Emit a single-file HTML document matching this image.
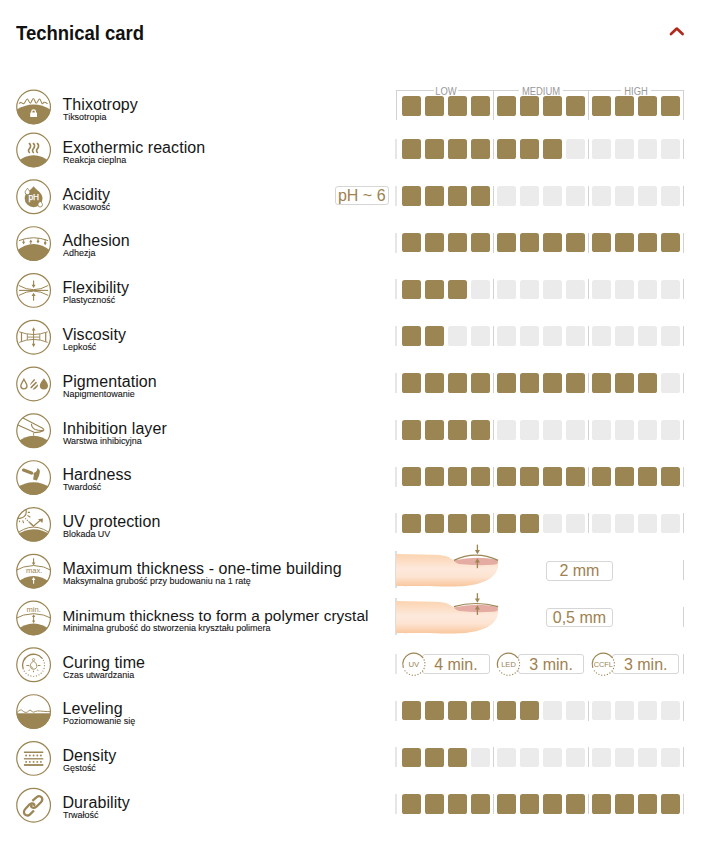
<!DOCTYPE html>
<html><head><meta charset="utf-8"><title>Technical card</title>
<style>
*{margin:0;padding:0;box-sizing:border-box}
html,body{width:703px;height:848px;background:#fff;overflow:hidden}
body{position:relative;font-family:"Liberation Sans",Arial,sans-serif;color:#161616}
.abs{position:absolute}
.title{position:absolute;left:16px;top:20.8px;font-weight:bold;font-size:20.6px;line-height:24px;white-space:nowrap;transform-origin:0 0;transform:scaleX(0.897);color:#111}
.row{position:absolute;left:0;width:703px;height:1px}
.ico{position:absolute;left:15.6px;width:36px;height:36px;overflow:visible}
.t{position:absolute;left:62.5px;font-size:16px;line-height:16px;white-space:nowrap;color:#161616;letter-spacing:0.07px}
.s{position:absolute;left:63px;font-size:9.4px;line-height:9px;white-space:nowrap;color:#161616;transform-origin:0 0;transform:scaleX(0.955);-webkit-text-stroke:0.1px #111}
.sq{position:absolute;width:19.0px;height:19.5px;border-radius:2.6px;background:#9b8553}
.sq.e{background:#ebebeb}
.vl{position:absolute;width:1px;background:#d2d2d2}
.box{position:absolute;border:1px solid #d6d6d6;border-radius:3px;background:#fff;color:#a0814f;font-size:16px;text-align:center;white-space:nowrap}
.lg{position:absolute;top:86.5px;font-size:10px;line-height:10px;color:#999;white-space:nowrap;transform:scaleX(0.94)}
</style></head><body>

<svg width="0" height="0" style="position:absolute"><defs><clipPath id="cc"><circle cx="18" cy="18" r="17.2"/></clipPath></defs></svg>
<div class="title">Technical card</div>
<svg class="abs" style="left:665px;top:22px" width="24" height="18" viewBox="0 0 24 18"><path d="M6,12 L11.8,6.6 L17.6,12" fill="none" stroke="#b1291b" stroke-width="2.7" stroke-linecap="round" stroke-linejoin="round"/></svg>
<div class="abs" style="left:396px;top:90px;width:288px;height:1px;background:#d2d2d2"></div>
<div class="vl" style="left:396px;top:90px;height:30px"></div>
<div class="vl" style="left:493px;top:90px;height:30px"></div>
<div class="vl" style="left:588px;top:90px;height:30px"></div>
<div class="vl" style="left:683px;top:90px;height:30px"></div>
<div class="abs" style="left:433.9px;top:88px;width:23.7px;height:4px;background:#fff"></div>
<div class="lg" style="left:416.15px;width:60px;text-align:center">LOW</div>
<div class="abs" style="left:519.0px;top:88px;width:44.0px;height:4px;background:#fff"></div>
<div class="lg" style="left:511.10px;width:60px;text-align:center">MEDIUM</div>
<div class="abs" style="left:621.0px;top:88px;width:30.1px;height:4px;background:#fff"></div>
<div class="lg" style="left:606.20px;width:60px;text-align:center">HIGH</div>
<div class="row" style="top:96.50px">
<div class="t" style="top:0.30px;font-size:16px">Thixotropy</div>
<div class="s" style="top:15.40px">Tiksotropia</div>
<div class="sq" style="left:402px;top:-0.3px"></div>
<div class="sq" style="left:425px;top:-0.3px"></div>
<div class="sq" style="left:448px;top:-0.3px"></div>
<div class="sq" style="left:471px;top:-0.3px"></div>
<div class="sq" style="left:497px;top:-0.3px"></div>
<div class="sq" style="left:520px;top:-0.3px"></div>
<div class="sq" style="left:543px;top:-0.3px"></div>
<div class="sq" style="left:566px;top:-0.3px"></div>
<div class="sq" style="left:592px;top:-0.3px"></div>
<div class="sq" style="left:615px;top:-0.3px"></div>
<div class="sq" style="left:638px;top:-0.3px"></div>
<div class="sq" style="left:661px;top:-0.3px"></div>
</div>
<div class="row" style="top:139.50px">
<div class="t" style="top:0.30px;font-size:16px">Exothermic reaction</div>
<div class="s" style="top:15.40px">Reakcja cieplna</div>
<div class="vl" style="left:395px;top:-0.5px;height:20px;background:#e6e6e6;width:1.5px"></div>
<div class="vl" style="left:493px;top:-0.5px;height:20px"></div>
<div class="vl" style="left:588px;top:-0.5px;height:20px"></div>
<div class="vl" style="left:683px;top:-0.5px;height:20px"></div>
<div class="sq" style="left:402px;top:-0.3px"></div>
<div class="sq" style="left:425px;top:-0.3px"></div>
<div class="sq" style="left:448px;top:-0.3px"></div>
<div class="sq" style="left:471px;top:-0.3px"></div>
<div class="sq" style="left:497px;top:-0.3px"></div>
<div class="sq" style="left:520px;top:-0.3px"></div>
<div class="sq" style="left:543px;top:-0.3px"></div>
<div class="sq e" style="left:566px;top:-0.3px"></div>
<div class="sq e" style="left:592px;top:-0.3px"></div>
<div class="sq e" style="left:615px;top:-0.3px"></div>
<div class="sq e" style="left:638px;top:-0.3px"></div>
<div class="sq e" style="left:661px;top:-0.3px"></div>
</div>
<div class="row" style="top:186.30px">
<div class="t" style="top:0.30px;font-size:16px">Acidity</div>
<div class="s" style="top:15.40px">Kwasowość</div>
<div class="vl" style="left:395px;top:-0.5px;height:20px;background:#e6e6e6;width:1.5px"></div>
<div class="vl" style="left:493px;top:-0.5px;height:20px"></div>
<div class="vl" style="left:588px;top:-0.5px;height:20px"></div>
<div class="vl" style="left:683px;top:-0.5px;height:20px"></div>
<div class="sq" style="left:402px;top:-0.3px"></div>
<div class="sq" style="left:425px;top:-0.3px"></div>
<div class="sq" style="left:448px;top:-0.3px"></div>
<div class="sq" style="left:471px;top:-0.3px"></div>
<div class="sq e" style="left:497px;top:-0.3px"></div>
<div class="sq e" style="left:520px;top:-0.3px"></div>
<div class="sq e" style="left:543px;top:-0.3px"></div>
<div class="sq e" style="left:566px;top:-0.3px"></div>
<div class="sq e" style="left:592px;top:-0.3px"></div>
<div class="sq e" style="left:615px;top:-0.3px"></div>
<div class="sq e" style="left:638px;top:-0.3px"></div>
<div class="sq e" style="left:661px;top:-0.3px"></div>
<div class="box" style="left:334.5px;top:-0.2px;width:54.5px;height:18.9px;line-height:18.6px">pH ~ 6</div>
</div>
<div class="row" style="top:233.10px">
<div class="t" style="top:0.30px;font-size:16px">Adhesion</div>
<div class="s" style="top:15.40px">Adhezja</div>
<div class="vl" style="left:395px;top:-0.5px;height:20px;background:#e6e6e6;width:1.5px"></div>
<div class="vl" style="left:493px;top:-0.5px;height:20px"></div>
<div class="vl" style="left:588px;top:-0.5px;height:20px"></div>
<div class="vl" style="left:683px;top:-0.5px;height:20px"></div>
<div class="sq" style="left:402px;top:-0.3px"></div>
<div class="sq" style="left:425px;top:-0.3px"></div>
<div class="sq" style="left:448px;top:-0.3px"></div>
<div class="sq" style="left:471px;top:-0.3px"></div>
<div class="sq" style="left:497px;top:-0.3px"></div>
<div class="sq" style="left:520px;top:-0.3px"></div>
<div class="sq" style="left:543px;top:-0.3px"></div>
<div class="sq" style="left:566px;top:-0.3px"></div>
<div class="sq" style="left:592px;top:-0.3px"></div>
<div class="sq" style="left:615px;top:-0.3px"></div>
<div class="sq" style="left:638px;top:-0.3px"></div>
<div class="sq" style="left:661px;top:-0.3px"></div>
</div>
<div class="row" style="top:279.90px">
<div class="t" style="top:0.30px;font-size:16px">Flexibility</div>
<div class="s" style="top:15.40px">Plastyczność</div>
<div class="vl" style="left:395px;top:-0.5px;height:20px;background:#e6e6e6;width:1.5px"></div>
<div class="vl" style="left:493px;top:-0.5px;height:20px"></div>
<div class="vl" style="left:588px;top:-0.5px;height:20px"></div>
<div class="vl" style="left:683px;top:-0.5px;height:20px"></div>
<div class="sq" style="left:402px;top:-0.3px"></div>
<div class="sq" style="left:425px;top:-0.3px"></div>
<div class="sq" style="left:448px;top:-0.3px"></div>
<div class="sq e" style="left:471px;top:-0.3px"></div>
<div class="sq e" style="left:497px;top:-0.3px"></div>
<div class="sq e" style="left:520px;top:-0.3px"></div>
<div class="sq e" style="left:543px;top:-0.3px"></div>
<div class="sq e" style="left:566px;top:-0.3px"></div>
<div class="sq e" style="left:592px;top:-0.3px"></div>
<div class="sq e" style="left:615px;top:-0.3px"></div>
<div class="sq e" style="left:638px;top:-0.3px"></div>
<div class="sq e" style="left:661px;top:-0.3px"></div>
</div>
<div class="row" style="top:326.70px">
<div class="t" style="top:0.30px;font-size:16px">Viscosity</div>
<div class="s" style="top:15.40px">Lepkość</div>
<div class="vl" style="left:395px;top:-0.5px;height:20px;background:#e6e6e6;width:1.5px"></div>
<div class="vl" style="left:493px;top:-0.5px;height:20px"></div>
<div class="vl" style="left:588px;top:-0.5px;height:20px"></div>
<div class="vl" style="left:683px;top:-0.5px;height:20px"></div>
<div class="sq" style="left:402px;top:-0.3px"></div>
<div class="sq" style="left:425px;top:-0.3px"></div>
<div class="sq e" style="left:448px;top:-0.3px"></div>
<div class="sq e" style="left:471px;top:-0.3px"></div>
<div class="sq e" style="left:497px;top:-0.3px"></div>
<div class="sq e" style="left:520px;top:-0.3px"></div>
<div class="sq e" style="left:543px;top:-0.3px"></div>
<div class="sq e" style="left:566px;top:-0.3px"></div>
<div class="sq e" style="left:592px;top:-0.3px"></div>
<div class="sq e" style="left:615px;top:-0.3px"></div>
<div class="sq e" style="left:638px;top:-0.3px"></div>
<div class="sq e" style="left:661px;top:-0.3px"></div>
</div>
<div class="row" style="top:373.50px">
<div class="t" style="top:0.30px;font-size:16px">Pigmentation</div>
<div class="s" style="top:15.40px">Napigmentowanie</div>
<div class="vl" style="left:395px;top:-0.5px;height:20px;background:#e6e6e6;width:1.5px"></div>
<div class="vl" style="left:493px;top:-0.5px;height:20px"></div>
<div class="vl" style="left:588px;top:-0.5px;height:20px"></div>
<div class="vl" style="left:683px;top:-0.5px;height:20px"></div>
<div class="sq" style="left:402px;top:-0.3px"></div>
<div class="sq" style="left:425px;top:-0.3px"></div>
<div class="sq" style="left:448px;top:-0.3px"></div>
<div class="sq" style="left:471px;top:-0.3px"></div>
<div class="sq" style="left:497px;top:-0.3px"></div>
<div class="sq" style="left:520px;top:-0.3px"></div>
<div class="sq" style="left:543px;top:-0.3px"></div>
<div class="sq" style="left:566px;top:-0.3px"></div>
<div class="sq" style="left:592px;top:-0.3px"></div>
<div class="sq" style="left:615px;top:-0.3px"></div>
<div class="sq" style="left:638px;top:-0.3px"></div>
<div class="sq e" style="left:661px;top:-0.3px"></div>
</div>
<div class="row" style="top:420.30px">
<div class="t" style="top:0.30px;font-size:16px">Inhibition layer</div>
<div class="s" style="top:15.40px">Warstwa inhibicyjna</div>
<div class="vl" style="left:395px;top:-0.5px;height:20px;background:#e6e6e6;width:1.5px"></div>
<div class="vl" style="left:493px;top:-0.5px;height:20px"></div>
<div class="vl" style="left:588px;top:-0.5px;height:20px"></div>
<div class="vl" style="left:683px;top:-0.5px;height:20px"></div>
<div class="sq" style="left:402px;top:-0.3px"></div>
<div class="sq" style="left:425px;top:-0.3px"></div>
<div class="sq" style="left:448px;top:-0.3px"></div>
<div class="sq" style="left:471px;top:-0.3px"></div>
<div class="sq e" style="left:497px;top:-0.3px"></div>
<div class="sq e" style="left:520px;top:-0.3px"></div>
<div class="sq e" style="left:543px;top:-0.3px"></div>
<div class="sq e" style="left:566px;top:-0.3px"></div>
<div class="sq e" style="left:592px;top:-0.3px"></div>
<div class="sq e" style="left:615px;top:-0.3px"></div>
<div class="sq e" style="left:638px;top:-0.3px"></div>
<div class="sq e" style="left:661px;top:-0.3px"></div>
</div>
<div class="row" style="top:467.10px">
<div class="t" style="top:0.30px;font-size:16px">Hardness</div>
<div class="s" style="top:15.40px">Twardość</div>
<div class="vl" style="left:395px;top:-0.5px;height:20px;background:#e6e6e6;width:1.5px"></div>
<div class="vl" style="left:493px;top:-0.5px;height:20px"></div>
<div class="vl" style="left:588px;top:-0.5px;height:20px"></div>
<div class="vl" style="left:683px;top:-0.5px;height:20px"></div>
<div class="sq" style="left:402px;top:-0.3px"></div>
<div class="sq" style="left:425px;top:-0.3px"></div>
<div class="sq" style="left:448px;top:-0.3px"></div>
<div class="sq" style="left:471px;top:-0.3px"></div>
<div class="sq" style="left:497px;top:-0.3px"></div>
<div class="sq" style="left:520px;top:-0.3px"></div>
<div class="sq" style="left:543px;top:-0.3px"></div>
<div class="sq" style="left:566px;top:-0.3px"></div>
<div class="sq" style="left:592px;top:-0.3px"></div>
<div class="sq" style="left:615px;top:-0.3px"></div>
<div class="sq" style="left:638px;top:-0.3px"></div>
<div class="sq" style="left:661px;top:-0.3px"></div>
</div>
<div class="row" style="top:513.90px">
<div class="t" style="top:0.30px;font-size:16px">UV protection</div>
<div class="s" style="top:15.40px">Blokada UV</div>
<div class="vl" style="left:395px;top:-0.5px;height:20px;background:#e6e6e6;width:1.5px"></div>
<div class="vl" style="left:493px;top:-0.5px;height:20px"></div>
<div class="vl" style="left:588px;top:-0.5px;height:20px"></div>
<div class="vl" style="left:683px;top:-0.5px;height:20px"></div>
<div class="sq" style="left:402px;top:-0.3px"></div>
<div class="sq" style="left:425px;top:-0.3px"></div>
<div class="sq" style="left:448px;top:-0.3px"></div>
<div class="sq" style="left:471px;top:-0.3px"></div>
<div class="sq" style="left:497px;top:-0.3px"></div>
<div class="sq" style="left:520px;top:-0.3px"></div>
<div class="sq e" style="left:543px;top:-0.3px"></div>
<div class="sq e" style="left:566px;top:-0.3px"></div>
<div class="sq e" style="left:592px;top:-0.3px"></div>
<div class="sq e" style="left:615px;top:-0.3px"></div>
<div class="sq e" style="left:638px;top:-0.3px"></div>
<div class="sq e" style="left:661px;top:-0.3px"></div>
</div>
<div class="row" style="top:560.70px">
<div class="t" style="top:0.30px;font-size:16px">Maximum thickness - one-time building</div>
<div class="s" style="top:15.40px">Maksymalna grubość przy budowaniu na 1 ratę</div>
<div class="vl" style="left:395px;top:-10px;height:37.5px;background:#dedede;width:1.5px"></div>
<div class="vl" style="left:683px;top:-0.5px;height:20px"></div>
<div class="box" style="left:545.7px;top:0.5px;width:67.5px;height:19.4px;line-height:17.4px">2 mm</div>
</div>
<div class="row" style="top:607.50px">
<div class="t" style="top:0.30px;font-size:15.36px">Minimum thickness to form a polymer crystal</div>
<div class="s" style="top:15.40px">Minimalna grubość do stworzenia kryształu polimera</div>
<div class="vl" style="left:395px;top:-10px;height:37.5px;background:#dedede;width:1.5px"></div>
<div class="vl" style="left:683px;top:-0.5px;height:20px"></div>
<div class="box" style="left:545.7px;top:0.5px;width:67.5px;height:19.4px;line-height:17.4px">0,5 mm</div>
</div>
<div class="row" style="top:654.30px">
<div class="t" style="top:0.30px;font-size:16px">Curing time</div>
<div class="s" style="top:15.40px">Czas utwardzania</div>
<div class="vl" style="left:395px;top:-0.5px;height:20px;background:#e6e6e6;width:1.5px"></div>
<div class="vl" style="left:683px;top:-0.5px;height:20px"></div>
<div class="box" style="left:422.2px;top:0.1px;width:67.5px;height:19.3px;line-height:19.2px">4 min.</div>
<div class="box" style="left:518.1px;top:0.1px;width:66.1px;height:19.3px;line-height:19.2px">3 min.</div>
<div class="box" style="left:612.3px;top:0.1px;width:66.8px;height:19.3px;line-height:19.2px">3 min.</div>
</div>
<div class="row" style="top:701.10px">
<div class="t" style="top:0.30px;font-size:16px">Leveling</div>
<div class="s" style="top:15.40px">Poziomowanie się</div>
<div class="vl" style="left:395px;top:-0.5px;height:20px;background:#e6e6e6;width:1.5px"></div>
<div class="vl" style="left:493px;top:-0.5px;height:20px"></div>
<div class="vl" style="left:588px;top:-0.5px;height:20px"></div>
<div class="vl" style="left:683px;top:-0.5px;height:20px"></div>
<div class="sq" style="left:402px;top:-0.3px"></div>
<div class="sq" style="left:425px;top:-0.3px"></div>
<div class="sq" style="left:448px;top:-0.3px"></div>
<div class="sq" style="left:471px;top:-0.3px"></div>
<div class="sq" style="left:497px;top:-0.3px"></div>
<div class="sq" style="left:520px;top:-0.3px"></div>
<div class="sq e" style="left:543px;top:-0.3px"></div>
<div class="sq e" style="left:566px;top:-0.3px"></div>
<div class="sq e" style="left:592px;top:-0.3px"></div>
<div class="sq e" style="left:615px;top:-0.3px"></div>
<div class="sq e" style="left:638px;top:-0.3px"></div>
<div class="sq e" style="left:661px;top:-0.3px"></div>
</div>
<div class="row" style="top:747.90px">
<div class="t" style="top:0.30px;font-size:16px">Density</div>
<div class="s" style="top:15.40px">Gęstość</div>
<div class="vl" style="left:395px;top:-0.5px;height:20px;background:#e6e6e6;width:1.5px"></div>
<div class="vl" style="left:493px;top:-0.5px;height:20px"></div>
<div class="vl" style="left:588px;top:-0.5px;height:20px"></div>
<div class="vl" style="left:683px;top:-0.5px;height:20px"></div>
<div class="sq" style="left:402px;top:-0.3px"></div>
<div class="sq" style="left:425px;top:-0.3px"></div>
<div class="sq" style="left:448px;top:-0.3px"></div>
<div class="sq e" style="left:471px;top:-0.3px"></div>
<div class="sq e" style="left:497px;top:-0.3px"></div>
<div class="sq e" style="left:520px;top:-0.3px"></div>
<div class="sq e" style="left:543px;top:-0.3px"></div>
<div class="sq e" style="left:566px;top:-0.3px"></div>
<div class="sq e" style="left:592px;top:-0.3px"></div>
<div class="sq e" style="left:615px;top:-0.3px"></div>
<div class="sq e" style="left:638px;top:-0.3px"></div>
<div class="sq e" style="left:661px;top:-0.3px"></div>
</div>
<div class="row" style="top:794.70px">
<div class="t" style="top:0.30px;font-size:16px">Durability</div>
<div class="s" style="top:15.40px">Trwałość</div>
<div class="vl" style="left:395px;top:-0.5px;height:20px;background:#e6e6e6;width:1.5px"></div>
<div class="vl" style="left:493px;top:-0.5px;height:20px"></div>
<div class="vl" style="left:588px;top:-0.5px;height:20px"></div>
<div class="vl" style="left:683px;top:-0.5px;height:20px"></div>
<div class="sq" style="left:402px;top:-0.3px"></div>
<div class="sq" style="left:425px;top:-0.3px"></div>
<div class="sq" style="left:448px;top:-0.3px"></div>
<div class="sq" style="left:471px;top:-0.3px"></div>
<div class="sq" style="left:497px;top:-0.3px"></div>
<div class="sq" style="left:520px;top:-0.3px"></div>
<div class="sq" style="left:543px;top:-0.3px"></div>
<div class="sq" style="left:566px;top:-0.3px"></div>
<div class="sq" style="left:592px;top:-0.3px"></div>
<div class="sq" style="left:615px;top:-0.3px"></div>
<div class="sq" style="left:638px;top:-0.3px"></div>
<div class="sq" style="left:661px;top:-0.3px"></div>
</div>
<svg class="abs" style="left:13px;top:87px;overflow:visible" width="40" height="40" viewBox="-2.600 -2.000 40 40"><circle cx="18" cy="18" r="16.85" fill="none" stroke="#9b8553" stroke-width="1.2"/><path clip-path="url(#cc)" d="M-2,22.61 Q18,8.39 38,22.61 L38,40 L-2,40 Z" fill="#9b8553"/><path d="M3.7,14.2 C3.98,14.07 4.88,13.38 5.4,13.4 C5.92,13.42 6.27,14.13 6.8,14.3 C7.33,14.47 7.78,15.12 8.6,14.4 C9.42,13.68 10.68,10.03 11.7,10.0 C12.72,9.97 13.68,14.30 14.7,14.2 C15.72,14.10 16.82,9.40 17.8,9.4 C18.78,9.40 19.57,14.10 20.6,14.2 C21.63,14.30 23.02,9.93 24,10.0 C24.98,10.07 25.77,14.07 26.5,14.6 C27.23,15.13 27.83,13.38 28.4,13.2 C28.97,13.02 29.37,13.28 29.9,13.5 C30.43,13.72 31.32,14.33 31.6,14.5" fill="none" stroke="#9b8553" stroke-width="1.05" stroke-linejoin="round" stroke-linecap="round"/><path d="M16.2,23.9 L16.2,22.6 A1.8,1.8 0 0 1 19.8,22.6 L19.8,23.9" fill="none" stroke="#fff" stroke-width="1.25"/><rect x="14.6" y="23.6" width="6.8" height="4.4" rx="0.5" fill="#fff"/></svg>
<svg class="abs" style="left:13px;top:130px;overflow:visible" width="40" height="40" viewBox="-2.600 -2.000 40 40"><circle cx="18" cy="18" r="16.85" fill="none" stroke="#9b8553" stroke-width="1.2"/><path clip-path="url(#cc)" d="M-2,32.96 Q18,13.64 38,32.96 L38,40 L-2,40 Z" fill="#9b8553"/><path d="M13.8,11.5 C15.700000000000001,13 15.100000000000001,15.4 13.700000000000001,16.8 C12.5,18 12.8,19.6 13.8,20.5" fill="none" stroke="#9b8553" stroke-width="1.65" stroke-linecap="round"/><path d="M17.8,11.5 C19.7,13 19.1,15.4 17.7,16.8 C16.5,18 16.8,19.6 17.8,20.5" fill="none" stroke="#9b8553" stroke-width="1.65" stroke-linecap="round"/><path d="M21.8,11.5 C23.7,13 23.1,15.4 21.7,16.8 C20.5,18 20.8,19.6 21.8,20.5" fill="none" stroke="#9b8553" stroke-width="1.65" stroke-linecap="round"/></svg>
<svg class="abs" style="left:13px;top:176px;overflow:visible" width="40" height="40" viewBox="-2.600 -2.800 40 40"><circle cx="18" cy="18" r="16.85" fill="none" stroke="#9b8553" stroke-width="1.2"/><path d="M18,7.4 C21.1325,11.6175 26.95,14.08 26.95,19.45 A8.95,8.95 0 0 1 9.05,19.45 C9.05,14.08 14.8675,11.6175 18,7.4 Z" fill="#9b8553"/><path d="M11.9,9.4 C12.74,10.835 14.3,12.06 14.3,13.5 A2.4,2.4 0 0 1 9.5,13.5 C9.5,12.06 11.06,10.835 11.9,9.4 Z" fill="#fff" stroke="#9b8553" stroke-width="0.9"/><path d="M24.6,22.3 C25.405,23.56 26.900000000000002,24.52 26.900000000000002,25.9 A2.3,2.3 0 0 1 22.3,25.9 C22.3,24.52 23.795,23.56 24.6,22.3 Z" fill="#fff" stroke="#9b8553" stroke-width="0.9"/><text x="18.1" y="21.1" text-anchor="middle" font-family="Liberation Sans, Arial, sans-serif" font-size="8.3" fill="#fff" stroke="#fff" stroke-width="0.25">pH</text></svg>
<svg class="abs" style="left:13px;top:223px;overflow:visible" width="40" height="40" viewBox="-2.600 -2.600 40 40"><circle cx="18" cy="18" r="16.85" fill="none" stroke="#9b8553" stroke-width="1.2"/><path clip-path="url(#cc)" d="M-2,27.82 Q18,9.18 38,27.82 L38,40 L-2,40 Z" fill="#9b8553"/><path d="M3.4,15 Q18,9.3 32.4,15" fill="none" stroke="#9b8553" stroke-width="1.0"/><path d="M8,14 V17" stroke="#9b8553" stroke-width="0.9"/><path d="M6.4,16.2 L9.6,16.2 L8,18.9 Z" fill="#9b8553"/><path d="M15.2,18.8 V16" stroke="#9b8553" stroke-width="0.9"/><path d="M13.6,16.6 L16.8,16.6 L15.2,14 Z" fill="#9b8553"/><path d="M22.4,12.5 V15.5" stroke="#9b8553" stroke-width="0.9"/><circle cx="22.4" cy="15.9" r="1.25" fill="#9b8553"/><path d="M29.6,13.5 V19.5" stroke="#9b8553" stroke-width="0.9"/><circle cx="29.6" cy="17.4" r="1.25" fill="#9b8553"/></svg>
<svg class="abs" style="left:13px;top:270px;overflow:visible" width="40" height="40" viewBox="-2.600 -2.400 40 40"><circle cx="18" cy="18" r="16.85" fill="none" stroke="#9b8553" stroke-width="1.2"/><path d="M3.3,18 L32.6,18" stroke="#9b8553" stroke-width="1.1"/><path d="M3.3,13.1 Q18,21.5 32.6,13.1" fill="none" stroke="#9b8553" stroke-width="1"/><path d="M3.3,23 Q18,14.4 32.6,23" fill="none" stroke="#9b8553" stroke-width="1"/><path d="M18,8 V13" stroke="#9b8553" stroke-width="1.1"/><path d="M16,12.3 L20,12.3 L18,15.6 Z" fill="#9b8553"/><path d="M18,28.3 V23" stroke="#9b8553" stroke-width="1.1"/><path d="M16,23.7 L20,23.7 L18,20.4 Z" fill="#9b8553"/></svg>
<svg class="abs" style="left:13px;top:317px;overflow:visible" width="40" height="40" viewBox="-2.600 -2.200 40 40"><circle cx="18" cy="18" r="16.85" fill="none" stroke="#9b8553" stroke-width="1.2"/><path d="M3.6,12.6 Q18,18.0 32.1,12.6" fill="none" stroke="#9b8553" stroke-width="0.95"/><path d="M3.6,23.2 Q18,17.2 32.1,23.2" fill="none" stroke="#9b8553" stroke-width="0.95"/><path d="M5.9,13.3 V22.4 M30.1,13.3 V22.4" stroke="#9b8553" stroke-width="1.2" fill="none"/><path d="M11.7,14.7 V20.9 M24.2,14.7 V20.9 M11.7,17.9 H24.2" stroke="#9b8553" stroke-width="0.9" fill="none"/><path d="M18,10 V26" stroke="#9b8553" stroke-width="1"/><path d="M16.2,11.4 L19.8,11.4 L18,8 Z M16.2,24.6 L19.8,24.6 L18,28 Z" fill="#9b8553"/></svg>
<svg class="abs" style="left:13px;top:364px;overflow:visible" width="40" height="40" viewBox="-2.600 -2.000 40 40"><circle cx="18" cy="18" r="16.85" fill="none" stroke="#9b8553" stroke-width="1.2"/><path d="M8.3,13.2 C9.385000000000002,15.4925 11.4,17.89 11.4,19.75 A3.1,3.1 0 0 1 5.200000000000001,19.75 C5.200000000000001,17.89 7.215000000000001,15.4925 8.3,13.2 Z" fill="none" stroke="#9b8553" stroke-width="1.3"/><clipPath id="dc7"><path d="M18.4,12.5 C19.7825,14.967500000000001 22.349999999999998,17.18 22.349999999999998,19.55 A3.95,3.95 0 0 1 14.45,19.55 C14.45,17.18 17.0175,14.967500000000001 18.4,12.5 Z"/></clipPath><g clip-path="url(#dc7)" stroke="#9b8553" stroke-width="1.6"><path d="M12,20.5 L20,12.5 M13.5,23.5 L23,14 M16,25.5 L25,16.5"/></g><path d="M28.3,12.2 C29.735,14.719999999999999 32.4,16.939999999999998 32.4,19.4 A4.1,4.1 0 0 1 24.200000000000003,19.4 C24.200000000000003,16.939999999999998 26.865000000000002,14.719999999999999 28.3,12.2 Z" fill="#9b8553"/></svg>
<svg class="abs" style="left:13px;top:410px;overflow:visible" width="40" height="40" viewBox="-2.600 -2.800 40 40"><circle cx="18" cy="18" r="16.85" fill="none" stroke="#9b8553" stroke-width="1.2"/><path clip-path="url(#cc)" d="M-2,32.41 Q18,13.59 38,32.41 L38,40 L-2,40 Z" fill="#9b8553"/><g clip-path="url(#cc)"><path d="M5,3.9 L26.6,15.2 Q29.4,17 27.4,18.2 Q24,19.6 19,19.8 L0,11.2" fill="none" stroke="#9b8553" stroke-width="1.1" stroke-linejoin="round"/><path d="M15.9,11 Q15.7,14.8 19.5,16.6 Q23.5,18 27.5,17.6" fill="none" stroke="#9b8553" stroke-width="1.1"/></g><path d="M18,19.9 V23" stroke="#9b8553" stroke-width="0.8"/></svg>
<svg class="abs" style="left:13px;top:457px;overflow:visible" width="40" height="40" viewBox="-2.600 -2.600 40 40"><circle cx="18" cy="18" r="16.85" fill="none" stroke="#9b8553" stroke-width="1.2"/><path clip-path="url(#cc)" d="M-2,30.12 Q18,15.08 38,30.12 L38,40 L-2,40 Z" fill="#9b8553"/><path d="M7.9,10.5 L15.9,13.5" stroke="#9b8553" stroke-width="3.2" stroke-linecap="round"/><path d="M21.8,8.5 Q24.6,10 24.3,12.2 L23.5,15.8 L21.3,20.8 L17.5,19.8 L18.2,15.8 L17.8,13.4 L20.1,12.3 L21.4,10.6 Z" fill="#9b8553"/></svg>
<svg class="abs" style="left:13px;top:504px;overflow:visible" width="40" height="40" viewBox="-2.600 -2.400 40 40"><circle cx="18" cy="18" r="16.85" fill="none" stroke="#9b8553" stroke-width="1.2"/><path clip-path="url(#cc)" d="M-2,30.80 Q18,15.00 38,30.80 L38,40 L-2,40 Z" fill="#9b8553"/><path clip-path="url(#cc)" d="M-2,29.77 Q18,11.63 38,29.77" fill="none" stroke="#9b8553" stroke-width="1.0"/><circle clip-path="url(#cc)" cx="4.1" cy="5.35" r="6.6" fill="none" stroke="#9b8553" stroke-width="1.15"/><path d="M12.2,6 H14.3 M11.8,9 L14.8,10.9 M3.8,14.3 L4.1,15.7 M7.1,13.9 L8,16.8" stroke="#9b8553" stroke-width="1.1" fill="none"/><path d="M9.6,11.9 L17.8,19.8" stroke="#9b8553" stroke-width="1.1" stroke-dasharray="1.3 1"/><path d="M13.8,15.9 L17.8,19.8 L25,13.6" stroke="#9b8553" stroke-width="1.3" fill="none"/><path d="M27.4,12.1 L22.4,12.8 L26.8,16.6 Z" fill="#9b8553"/></svg>
<svg class="abs" style="left:13px;top:551px;overflow:visible" width="40" height="40" viewBox="-2.600 -2.200 40 40"><circle cx="18" cy="18" r="16.85" fill="none" stroke="#9b8553" stroke-width="1.2"/><path clip-path="url(#cc)" d="M-2,32.16 Q18,13.24 38,32.16 L38,40 L-2,40 Z" fill="#9b8553"/><path clip-path="url(#cc)" d="M-2,18.25 Q18,6.35 38,18.25" fill="none" stroke="#9b8553" stroke-width="1.0"/><path d="M18,5.1 V10" stroke="#9b8553" stroke-width="1.1"/><path d="M16.2,9.2 L19.8,9.2 L18,12.2 Z" fill="#9b8553"/><path d="M18,30.5 V26" stroke="#fff" stroke-width="1.1"/><path d="M16.2,26.9 L19.8,26.9 L18,23.9 Z" fill="#fff"/><text x="18.6" y="19.9" text-anchor="middle" font-family="Liberation Sans, Arial, sans-serif" font-size="7.6" fill="#9b8553">max.</text></svg>
<svg class="abs" style="left:394px;top:551px;overflow:visible" width="110" height="40" viewBox="-2.000 -2.900 110 40"><defs><linearGradient id="fg1" x1="0" y1="0" x2="0" y2="1"><stop offset="0" stop-color="#fbd3b0"/><stop offset="0.18" stop-color="#fcdcc2"/><stop offset="0.45" stop-color="#fde9dc"/><stop offset="0.7" stop-color="#fde4d2"/><stop offset="1" stop-color="#f9c69c"/></linearGradient></defs><path d="M0,0.2 L37.6,0.8 C45,1.2 50,1.8 53,3.3 C55,4.5 56.5,5.8 58,6.6 L101.8,6.6 C103,13 101,19 96,23 C90,28 80,31 66,32.4 C55,32.8 30,32.5 0,32.2 Z" fill="url(#fg1)"/><path d="M58.1,6.7 Q80,1.2 101.7,6.1 L101.8,9.4 Q101,10.6 97,10.9 Q78,11.9 63,10.1 Q58.6,8.7 58.1,6.7 Z" fill="#e4aca3"/><path d="M57.9,6.5 Q79.6,-3.90 102.1,6.5" fill="none" stroke="#9b8553" stroke-width="1.2"/><path d="M81.4,-9.3 V-2.6" stroke="#9b8553" stroke-width="1.3"/><path d="M78.9,-3.8000000000000003 L83.9,-3.8000000000000003 L81.4,0.4 Z" fill="#9b8553"/><path d="M81.4,14.3 V7.3" stroke="#9b8553" stroke-width="1.3"/><path d="M78.9,8.5 L83.9,8.5 L81.4,4.3 Z" fill="#9b8553"/></svg>
<svg class="abs" style="left:13px;top:598px;overflow:visible" width="40" height="40" viewBox="-2.600 -2.000 40 40"><circle cx="18" cy="18" r="16.85" fill="none" stroke="#9b8553" stroke-width="1.2"/><path clip-path="url(#cc)" d="M-2,32.40 Q18,14.70 38,32.40 L38,40 L-2,40 Z" fill="#9b8553"/><path clip-path="url(#cc)" d="M-2,19.31 Q18,7.99 38,19.31" fill="none" stroke="#9b8553" stroke-width="1.0"/><path d="M18,15 V22" stroke="#9b8553" stroke-width="1"/><path d="M16.4,16.9 L19.6,16.9 L18,14.3 Z M16.4,20.6 L19.6,20.6 L18,23.2 Z" fill="#9b8553"/><text x="18" y="12.2" text-anchor="middle" font-family="Liberation Sans, Arial, sans-serif" font-size="7.6" fill="#9b8553">min.</text></svg>
<svg class="abs" style="left:394px;top:598px;overflow:visible" width="110" height="40" viewBox="-2.000 -2.900 110 40"><defs><linearGradient id="fg2" x1="0" y1="0" x2="0" y2="1"><stop offset="0" stop-color="#fbd3b0"/><stop offset="0.18" stop-color="#fcdcc2"/><stop offset="0.45" stop-color="#fde9dc"/><stop offset="0.7" stop-color="#fde4d2"/><stop offset="1" stop-color="#f9c69c"/></linearGradient></defs><path d="M0,0.2 L37.6,0.8 C45,1.2 50,1.8 53,3.3 C55,4.5 56.5,5.8 58,6.6 L101.8,6.6 C103,13 101,19 96,23 C90,28 80,31 66,32.4 C55,32.8 30,32.5 0,32.2 Z" fill="url(#fg2)"/><path d="M58.1,6.7 Q80,1.2 101.7,6.1 L101.8,9.4 Q101,10.6 97,10.9 Q78,11.9 63,10.1 Q58.6,8.7 58.1,6.7 Z" fill="#e4aca3"/><path d="M57.9,5.8 Q79.6,-0.60 102.1,5.8" fill="none" stroke="#9b8553" stroke-width="1.2"/><path d="M81.4,-7.7 V-1.1" stroke="#9b8553" stroke-width="1.3"/><path d="M78.9,-2.3000000000000003 L83.9,-2.3000000000000003 L81.4,1.9 Z" fill="#9b8553"/><path d="M81.4,14.0 V7.3" stroke="#9b8553" stroke-width="1.3"/><path d="M78.9,8.5 L83.9,8.5 L81.4,4.3 Z" fill="#9b8553"/></svg>
<svg class="abs" style="left:13px;top:644px;overflow:visible" width="40" height="40" viewBox="-2.600 -2.800 40 40"><circle cx="18" cy="18" r="16.85" fill="none" stroke="#9b8553" stroke-width="1.2"/><path d="M7.55,22.03 A11.0,11.0 0 0 1 26.56,11.60" fill="none" stroke="#9b8553" stroke-width="1.3" stroke-linecap="round"/><g fill="#9b8553"><circle cx="27.79" cy="13.54" r="0.62"/><circle cx="28.71" cy="16.16" r="0.62"/><circle cx="28.94" cy="18.93" r="0.62"/><circle cx="28.47" cy="21.67" r="0.62"/><circle cx="27.33" cy="24.20" r="0.62"/><circle cx="25.59" cy="26.36" r="0.62"/><circle cx="23.37" cy="28.02" r="0.62"/><circle cx="20.80" cy="29.08" r="0.62"/><circle cx="18.05" cy="29.45" r="0.62"/><circle cx="15.29" cy="29.12" r="0.62"/><circle cx="12.70" cy="28.12" r="0.62"/><circle cx="10.45" cy="26.49" r="0.62"/><circle cx="8.67" cy="24.36" r="0.62"/></g><circle cx="17.9" cy="12.9" r="1.15" fill="none" stroke="#9b8553" stroke-width="0.75"/><path d="M17.9,14.3 C15.8,15.5 14.6,17.5 14.6,19.5 C14.6,21.3 16,22.4 17.9,22.4 C19.8,22.4 21.2,21.3 21.2,19.5 C21.2,17.5 20,15.5 17.9,14.3 Z" fill="none" stroke="#9b8553" stroke-width="0.9"/><path d="M15,19.5 C15.4,21.4 16.6,22 18,22 L16.2,19.2 Z" fill="#9b8553" opacity="0.6"/><path d="M10.8,18.7 H13.6 M22.2,18.7 H24.8 M17.9,23.9 V25.4 M13.9,22.8 L13.3,24 M21.9,22.8 L22.5,24" stroke="#9b8553" stroke-width="1" fill="none"/></svg>
<svg class="abs" style="left:398px;top:649px;overflow:visible" width="30" height="30" viewBox="-2.850 -2.150 30 30"><circle cx="13" cy="13" r="11.1" fill="#fff"/><path d="M2.39,16.25 A11.1,11.1 0 0 1 21.98,6.48" fill="none" stroke="#9b8553" stroke-width="1.25" stroke-linecap="round"/><g fill="#9b8553"><circle cx="23.29" cy="8.84" r="0.68"/><circle cx="24.02" cy="11.65" r="0.68"/><circle cx="23.99" cy="14.54" r="0.68"/><circle cx="23.22" cy="17.34" r="0.68"/><circle cx="21.75" cy="19.83" r="0.68"/><circle cx="19.68" cy="21.86" r="0.68"/><circle cx="17.16" cy="23.29" r="0.68"/><circle cx="14.35" cy="24.02" r="0.68"/><circle cx="11.46" cy="23.99" r="0.68"/><circle cx="8.66" cy="23.22" r="0.68"/><circle cx="6.17" cy="21.75" r="0.68"/><circle cx="4.14" cy="19.68" r="0.68"/></g><text x="13" y="15.85" text-anchor="middle" font-family="Liberation Sans, Arial, sans-serif" font-size="7.8" fill="#9b8553">UV</text></svg>
<svg class="abs" style="left:493px;top:649px;overflow:visible" width="30" height="30" viewBox="-2.500 -2.150 30 30"><circle cx="13" cy="13" r="11.1" fill="#fff"/><path d="M2.39,16.25 A11.1,11.1 0 0 1 21.98,6.48" fill="none" stroke="#9b8553" stroke-width="1.25" stroke-linecap="round"/><g fill="#9b8553"><circle cx="23.29" cy="8.84" r="0.68"/><circle cx="24.02" cy="11.65" r="0.68"/><circle cx="23.99" cy="14.54" r="0.68"/><circle cx="23.22" cy="17.34" r="0.68"/><circle cx="21.75" cy="19.83" r="0.68"/><circle cx="19.68" cy="21.86" r="0.68"/><circle cx="17.16" cy="23.29" r="0.68"/><circle cx="14.35" cy="24.02" r="0.68"/><circle cx="11.46" cy="23.99" r="0.68"/><circle cx="8.66" cy="23.22" r="0.68"/><circle cx="6.17" cy="21.75" r="0.68"/><circle cx="4.14" cy="19.68" r="0.68"/></g><text x="13" y="15.85" text-anchor="middle" font-family="Liberation Sans, Arial, sans-serif" font-size="7.5" fill="#9b8553">LED</text></svg>
<svg class="abs" style="left:588px;top:649px;overflow:visible" width="30" height="30" viewBox="-2.300 -2.150 30 30"><circle cx="13" cy="13" r="11.1" fill="#fff"/><path d="M2.39,16.25 A11.1,11.1 0 0 1 21.98,6.48" fill="none" stroke="#9b8553" stroke-width="1.25" stroke-linecap="round"/><g fill="#9b8553"><circle cx="23.29" cy="8.84" r="0.68"/><circle cx="24.02" cy="11.65" r="0.68"/><circle cx="23.99" cy="14.54" r="0.68"/><circle cx="23.22" cy="17.34" r="0.68"/><circle cx="21.75" cy="19.83" r="0.68"/><circle cx="19.68" cy="21.86" r="0.68"/><circle cx="17.16" cy="23.29" r="0.68"/><circle cx="14.35" cy="24.02" r="0.68"/><circle cx="11.46" cy="23.99" r="0.68"/><circle cx="8.66" cy="23.22" r="0.68"/><circle cx="6.17" cy="21.75" r="0.68"/><circle cx="4.14" cy="19.68" r="0.68"/></g><text x="13" y="15.85" text-anchor="middle" font-family="Liberation Sans, Arial, sans-serif" font-size="7.4" fill="#9b8553">CCFL</text></svg>
<svg class="abs" style="left:13px;top:691px;overflow:visible" width="40" height="40" viewBox="-2.600 -2.600 40 40"><circle cx="18" cy="18" r="16.85" fill="none" stroke="#9b8553" stroke-width="1.2"/><rect clip-path="url(#cc)" x="-2" y="19.7" width="40" height="20" fill="#9b8553"/><path clip-path="url(#cc)" d="M0,19 L1.7,18.6 C3.5,17 4.8,15.9 6,16.5 C7.5,17.3 8.5,19.1 10.8,18.8 C12.5,18.5 13,16.7 14.4,16.6 C16,16.5 16.5,18.7 17.8,18.6 C19.5,18.5 20,17.3 21.8,17.3 C26,17.4 30,18.1 36,18.1" fill="none" stroke="#9b8553" stroke-width="0.95"/></svg>
<svg class="abs" style="left:13px;top:738px;overflow:visible" width="40" height="40" viewBox="-2.600 -2.400 40 40"><circle cx="18" cy="18" r="16.85" fill="none" stroke="#9b8553" stroke-width="1.2"/><rect x="8.3" y="11.1" width="19.4" height="1.5" fill="#9b8553"/><rect x="8.3" y="17.75" width="19.4" height="1.3" fill="#9b8553"/><rect x="8.3" y="23.7" width="19.4" height="1.8" fill="#9b8553"/><circle cx="10.5" cy="15.1" r="0.95" fill="#9b8553"/><circle cx="14.2" cy="15.1" r="0.95" fill="#9b8553"/><circle cx="18" cy="15.1" r="0.95" fill="#9b8553"/><circle cx="21.7" cy="15.1" r="0.95" fill="#9b8553"/><circle cx="25.3" cy="15.1" r="0.95" fill="#9b8553"/><circle cx="10.5" cy="21.5" r="0.95" fill="#9b8553"/><circle cx="14.2" cy="21.5" r="0.95" fill="#9b8553"/><circle cx="18" cy="21.5" r="0.95" fill="#9b8553"/><circle cx="21.7" cy="21.5" r="0.95" fill="#9b8553"/><circle cx="25.3" cy="21.5" r="0.95" fill="#9b8553"/></svg>
<svg class="abs" style="left:13px;top:785px;overflow:visible" width="40" height="40" viewBox="-2.600 -2.200 40 40"><circle cx="18" cy="18" r="16.85" fill="none" stroke="#9b8553" stroke-width="1.2"/><g transform="translate(3.8,5.6) scale(0.0392)" fill="none" stroke="#9b8553" stroke-width="58" stroke-linecap="butt"><path d="M330,205 L450,105 C505,60 585,100 585,165 C585,195 570,220 550,240 L440,350 C400,390 330,395 305,360 C292,340 300,318 335,305"/><path d="M372,450 L265,555 C210,605 120,570 115,500 C112,465 125,440 150,415 L255,300 C290,265 350,262 375,290 C388,305 382,322 362,335"/></g></svg>
</body></html>
